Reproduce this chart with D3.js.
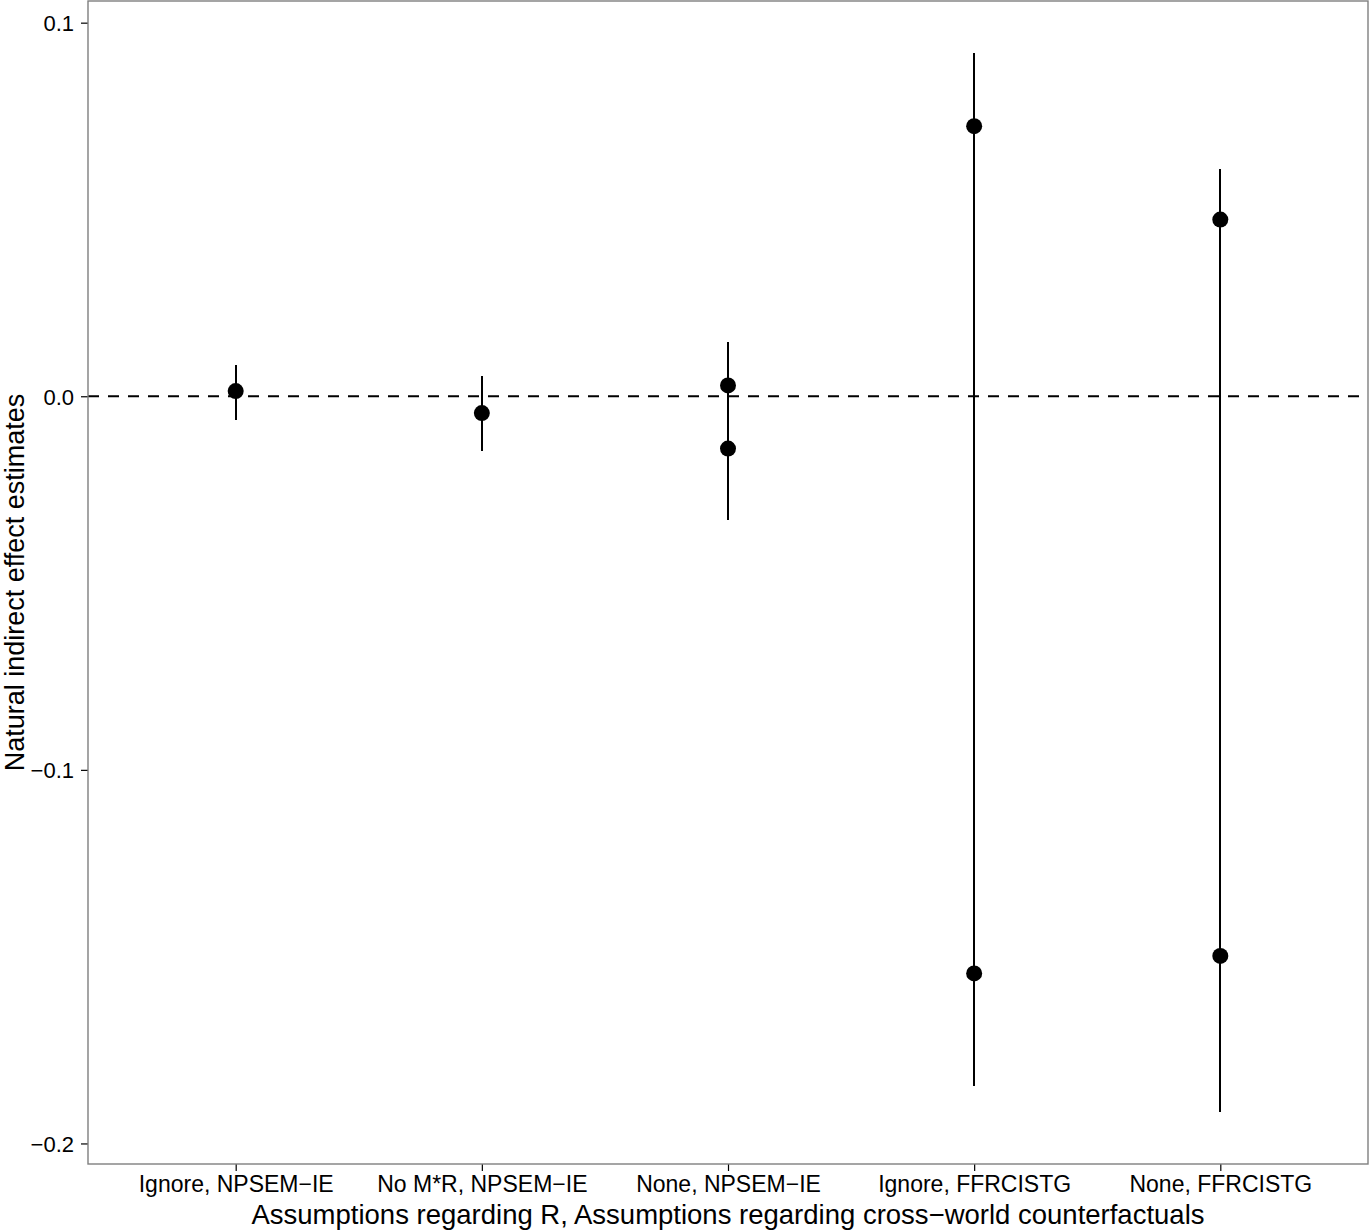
<!DOCTYPE html>
<html>
<head>
<meta charset="utf-8">
<script src="https://cdn.jsdelivr.net/npm/d3@7"></script>
<style>
  body { margin: 0; background: #fff; }
  text { font-family: "Liberation Sans", Arial, sans-serif; fill: #000; }
</style>
</head>
<body>
<div class="chart"></div>
<script>

var categories = ["Ignore, NPSEM\u2212IE", "No M*R, NPSEM\u2212IE", "None, NPSEM\u2212IE", "Ignore, FFRCISTG", "None, FFRCISTG"];

// one entry per estimate: which category, point estimate, lower and upper limit
var estCategory = [0, 1, 2, 2, 3, 3, 4, 4];
var estValue = [0.0014, -0.0045, 0.0029, -0.0140, 0.0723, -0.1545, 0.0473, -0.1498];
var estLower = [-0.0064, -0.0147, -0.0087, -0.0332, -0.1300, -0.1845, -0.1200, -0.1917];
var estUpper = [0.0083, 0.0054, 0.0145, 0.0052, 0.0919, 0.0200, 0.0608, 0.0100];

var yTicks = [0.1, 0.0, -0.1, -0.2];

var svgWidth = 1370;
var svgHeight = 1230;

var margin = {top: 1, right: 2, bottom: 66, left: 88};

var width = svgWidth - margin.left - margin.right;
var height = svgHeight - margin.top - margin.bottom;

var svg = d3
    .select(".chart")
    .append("svg")
    .attr("width", svgWidth)
    .attr("height", svgHeight)
    .append("g")
    .attr("transform", "translate(" + margin.left + "," + margin.top + ")");

var data = estValue.map(function(v, i) {
    return {cat: categories[estCategory[i]], est: v, lo: estLower[i], hi: estUpper[i]};
});

var xScale = d3.scalePoint()
    .domain(categories)
    .range([0, width])
    .padding(0.6);

var yScale = d3.scaleLinear()
    .domain([-0.2055, 0.1058])
    .range([height, 0]);

function fmt(d) {
    return d3.format(".1f")(d).replace("-", "\u2212");
}

var leftAxis = d3.axisLeft(yScale)
    .tickValues(yTicks)
    .tickSize(7)
    .tickPadding(7)
    .tickFormat(fmt);

var bottomAxis = d3.axisBottom(xScale)
    .tickSize(7)
    .tickPadding(5);

// axes
var yAxisG = svg.append("g").call(leftAxis);
yAxisG.select(".domain").remove();
yAxisG.selectAll("line").attr("stroke", "#000").attr("stroke-width", 1.2);
yAxisG.selectAll("text")
    .attr("font-size", 22)
    .attr("dy", "0.36em")
    .style("font-family", "'Liberation Sans', Arial, sans-serif");

var xAxisG = svg.append("g")
    .attr("transform", "translate(0," + height + ")")
    .call(bottomAxis);
xAxisG.select(".domain").remove();
xAxisG.selectAll("line").attr("stroke", "#000").attr("stroke-width", 1.2);
xAxisG.selectAll("text")
    .attr("font-size", 23)
    .style("font-family", "'Liberation Sans', Arial, sans-serif");

// zero reference line
svg.append("line")
    .attr("x1", 0)
    .attr("x2", width)
    .attr("y1", yScale(0))
    .attr("y2", yScale(0))
    .attr("stroke", "#000")
    .attr("stroke-width", 2.2)
    .attr("stroke-dasharray", "11,9");

// intervals
svg.selectAll(".ci")
    .data(data)
    .enter()
    .append("line")
    .attr("class", "ci")
    .attr("x1", function(d) { return Math.round(xScale(d.cat)); })
    .attr("x2", function(d) { return Math.round(xScale(d.cat)); })
    .attr("y1", function(d) { return Math.round(yScale(d.lo)); })
    .attr("y2", function(d) { return Math.round(yScale(d.hi)); })
    .attr("stroke", "#000")
    .attr("stroke-width", 2.4)
    .attr("shape-rendering", "crispEdges");

// point estimates
svg.selectAll(".pt")
    .data(data)
    .enter()
    .append("circle")
    .attr("class", "pt")
    .attr("cx", function(d) { return xScale(d.cat); })
    .attr("cy", function(d) { return yScale(d.est); })
    .attr("r", 8)
    .attr("fill", "#000");

// panel border
svg.append("rect")
    .attr("x", 0)
    .attr("y", 0)
    .attr("width", width)
    .attr("height", height)
    .attr("fill", "none")
    .attr("stroke", "#7f7f7f")
    .attr("stroke-width", 1.4);

// axis titles
svg.append("text")
    .attr("x", width / 2)
    .attr("y", height + 60)
    .attr("text-anchor", "middle")
    .attr("font-size", 27.5)
    .text("Assumptions regarding R, Assumptions regarding cross\u2212world counterfactuals");

svg.append("text")
    .attr("transform", "rotate(-90)")
    .attr("x", -height / 2)
    .attr("y", -margin.left + 24)
    .attr("text-anchor", "middle")
    .attr("font-size", 27)
    .text("Natural indirect effect estimates");

</script>
</body>
</html>
